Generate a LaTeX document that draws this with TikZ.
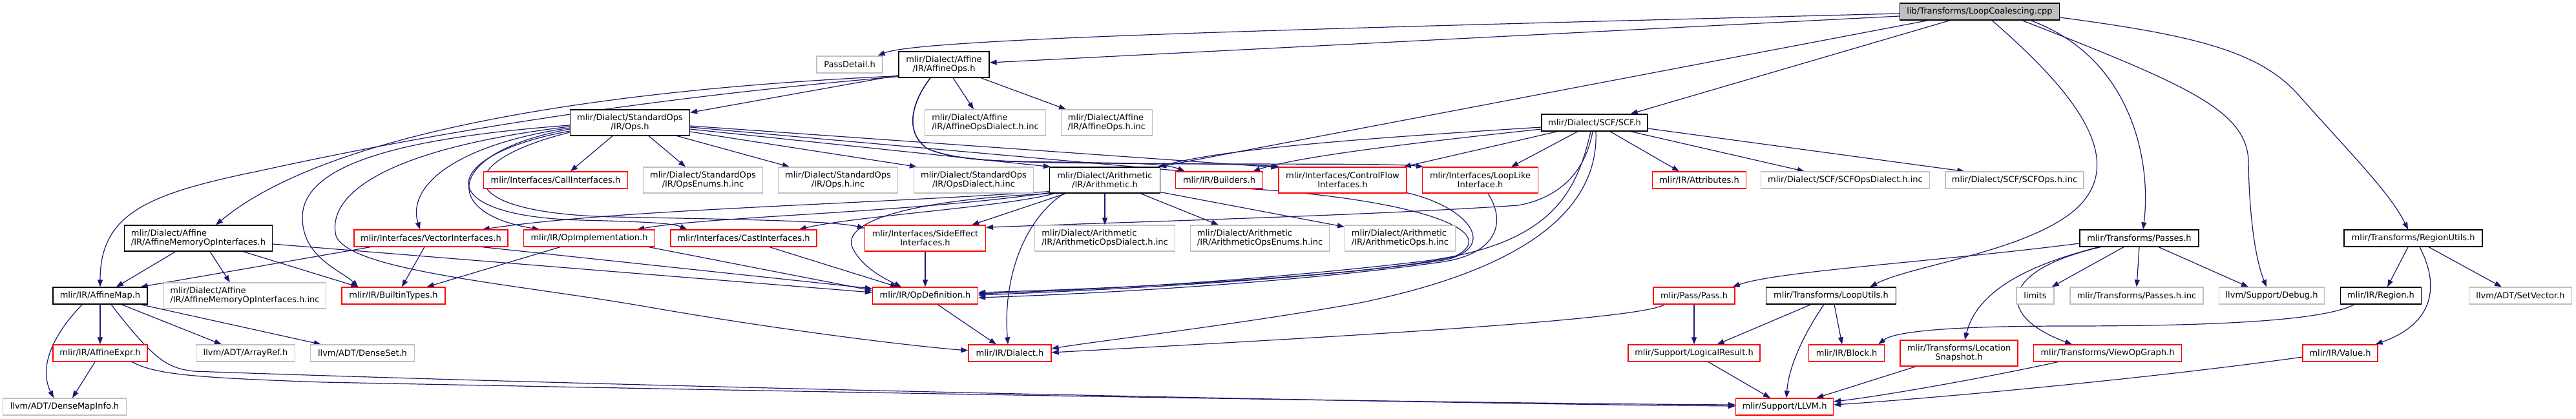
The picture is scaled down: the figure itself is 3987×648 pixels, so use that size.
\documentclass[tikz,border=0pt]{standalone}
\usepackage{fontspec}
\setmainfont{DejaVu Sans}
\usetikzlibrary{arrows.meta,calc}
\definecolor{edgec}{HTML}{191970}
\definecolor{grayb}{HTML}{BFBFBF}
\definecolor{redb}{HTML}{FF0000}
\pgfdeclarelayer{bg}
\pgfsetlayers{bg,main}
\tikzset{
  nd/.style={draw, fill=white, line width=1.3pt, font=\fontsize{13pt}{14pt}\selectfont, inner xsep=2pt, inner ysep=0pt, minimum height=26pt, align=center, text=black},
  blk/.style={nd, draw=black},
  rd/.style={nd, draw=redb},
  gr/.style={nd, draw=grayb},
  two/.style={minimum height=40pt},
  lft/.style={align=left},
  dep/.style={draw=edgec, line width=1.2pt, -{Triangle[length=11pt,width=8pt]}},
}
\begin{document}
\begin{tikzpicture}[x=1pt,y=-1pt]
\useasboundingbox (0,0) rectangle (3987,648);
% rank 0
\node[blk, fill=grayb, minimum width=247pt] (top) at (3064,18) {lib/Transforms/LoopCoalescing.cpp};
% rank 1
\node[gr, minimum width=102pt] (passdetail) at (1315,100) {PassDetail.h};
\node[blk, two, minimum width=140pt] (affineops) at (1461,100) {mlir/Dialect/Affine\\/IR/AffineOps.h};
% rank 2
\node[blk, two, minimum width=185pt] (ops) at (975,190) {mlir/Dialect/StandardOps\\/IR/Ops.h};
\node[gr, two, lft, minimum width=187pt] (affdialinc) at (1525,190) {mlir/Dialect/Affine\\/IR/AffineOpsDialect.h.inc};
\node[gr, two, lft, minimum width=141pt] (affopsinc) at (1713,190) {mlir/Dialect/Affine\\/IR/AffineOps.h.inc};
\node[blk, minimum width=164pt] (scf) at (2468,190) {mlir/Dialect/SCF/SCF.h};
% rank 3
\node[rd, minimum width=223pt] (callif) at (860,279) {mlir/Interfaces/CallInterfaces.h};
\node[gr, two, minimum width=185pt] (opsenums) at (1088,279) {mlir/Dialect/StandardOps\\/IR/OpsEnums.h.inc};
\node[gr, two, minimum width=185pt] (opsinc) at (1297,279) {mlir/Dialect/StandardOps\\/IR/Ops.h.inc};
\node[gr, two, minimum width=185pt] (opsdialinc) at (1507,279) {mlir/Dialect/StandardOps\\/IR/OpsDialect.h.inc};
\node[blk, two, minimum width=171pt] (arith) at (1710,279) {mlir/Dialect/Arithmetic\\/IR/Arithmetic.h};
\node[rd, minimum width=135pt] (builders) at (1887,279) {mlir/IR/Builders.h};
\node[rd, two, minimum width=198pt] (cflow) at (2078,279) {mlir/Interfaces/ControlFlow\\Interfaces.h};
\node[rd, two, minimum width=179pt] (looplike) at (2291,279) {mlir/Interfaces/LoopLike\\Interface.h};
\node[rd, minimum width=145pt] (attrs) at (2630,279) {mlir/IR/Attributes.h};
\node[gr, minimum width=261pt] (scfdialinc) at (2856,279) {mlir/Dialect/SCF/SCFOpsDialect.h.inc};
\node[gr, minimum width=214pt] (scfopsinc) at (3118,279) {mlir/Dialect/SCF/SCFOps.h.inc};
% rank 4
\node[blk, two, lft, minimum width=229pt] (affmemif) at (307,369) {mlir/Dialect/Affine\\/IR/AffineMemoryOpInterfaces.h};
\node[rd, minimum width=238pt] (vecif) at (667,369) {mlir/Interfaces/VectorInterfaces.h};
\node[rd, minimum width=203pt] (opimpl) at (912,369) {mlir/IR/OpImplementation.h};
\node[rd, minimum width=226pt] (castif) at (1151,369) {mlir/Interfaces/CastInterfaces.h};
\node[rd, two, minimum width=187pt] (sideeff) at (1432,369) {mlir/Interfaces/SideEffect\\Interfaces.h};
\node[gr, two, lft, minimum width=217pt] (arithdialinc) at (1710,369) {mlir/Dialect/Arithmetic\\/IR/ArithmeticOpsDialect.h.inc};
\node[gr, two, lft, minimum width=215pt] (arithenumsinc) at (1950,369) {mlir/Dialect/Arithmetic\\/IR/ArithmeticOpsEnums.h.inc};
\node[gr, two, lft, minimum width=171pt] (arithopsinc) at (2167,369) {mlir/Dialect/Arithmetic\\/IR/ArithmeticOps.h.inc};
\node[blk, minimum width=184pt] (passes) at (3311,369) {mlir/Transforms/Passes.h};
\node[blk, minimum width=214pt] (regionutils) at (3735,369) {mlir/Transforms/RegionUtils.h};
% rank 5
\node[blk, minimum width=146pt] (affmap) at (155,458) {mlir/IR/AffineMap.h};
\node[gr, two, lft, minimum width=251pt] (affmeminc) at (379,458) {mlir/Dialect/Affine\\/IR/AffineMemoryOpInterfaces.h.inc};
\node[rd, minimum width=160pt] (builtintypes) at (609,458) {mlir/IR/BuiltinTypes.h};
\node[rd, minimum width=163pt] (opdef) at (1432,458) {mlir/IR/OpDefinition.h};
\node[rd, minimum width=126pt] (pass) at (2622,458) {mlir/Pass/Pass.h};
\node[blk, minimum width=201pt] (looputils) at (2834,458) {mlir/Transforms/LoopUtils.h};
\node[gr, minimum width=58pt] (limits) at (3150,458) {limits};
\node[gr, minimum width=206pt] (passesinc) at (3307,458) {mlir/Transforms/Passes.h.inc};
\node[gr, minimum width=163pt] (debug) at (3516,458) {llvm/Support/Debug.h};
\node[blk, minimum width=125pt] (region) at (3685,458) {mlir/IR/Region.h};
\node[gr, minimum width=159pt] (setvector) at (3901,458) {llvm/ADT/SetVector.h};
% rank 6
\node[rd, minimum width=146pt] (affexpr) at (155,547) {mlir/IR/AffineExpr.h};
\node[gr, minimum width=153pt] (arrayref) at (380,547) {llvm/ADT/ArrayRef.h};
\node[gr, minimum width=161pt] (denseset) at (561,547) {llvm/ADT/DenseSet.h};
\node[rd, minimum width=128pt] (dialect) at (1563,547) {mlir/IR/Dialect.h};
\node[rd, minimum width=204pt] (logicalres) at (2622,547) {mlir/Support/LogicalResult.h};
\node[rd, minimum width=117pt] (block) at (2858,547) {mlir/IR/Block.h};
\node[rd, two, minimum width=182pt] (locsnap) at (3032,547) {mlir/Transforms/Location\\Snapshot.h};
\node[rd, minimum width=229pt] (viewop) at (3262,547) {mlir/Transforms/ViewOpGraph.h};
\node[rd, minimum width=116pt] (value) at (3622,547) {mlir/IR/Value.h};
% rank 7
\node[gr, minimum width=191pt] (densemapinfo) at (100,630) {llvm/ADT/DenseMapInfo.h};
\node[rd, minimum width=151pt] (llvm) at (2762,630) {mlir/Support/LLVM.h};

\begin{pgfonlayer}{bg}
% from top
\draw[dep] ($(top.west)+(0,3)$) .. controls (2000,45) and (1420,60) .. ($(passdetail.north east)+(-8,0)$);
\draw[dep] ($(top.west)+(0,7)$) -- ($(affineops.east)+(0,-3)$);
\draw[dep] ($(top.south)+(-80,0)$) -- ($(arith.north east)+(-2,0)$);
\draw[dep] ($(top.south)+(-46,0)$) -- ($(scf.north east)+(-27,0)$);
\draw[dep] ($(top.south)+(19,0)$) .. controls (3220,150) and (3290,250) .. (3215,322) .. controls (3140,390) and (2960,410) .. ($(looputils.north east)+(-41,0)$);
\draw[dep] ($(top.south)+(79,0)$) .. controls (3300,90) and (3330,250) .. ($(passes.north)+(6,0)$);
\draw[dep] ($(top.south)+(66,0)$) .. controls (3380,130) and (3478,170) .. (3480,250) .. controls (3481,330) and (3490,400) .. ($(debug.north)+(-8,0)$);
\draw[dep] ($(top.east)+(0,9)$) .. controls (3400,55) and (3500,80) .. (3560,150) .. controls (3640,240) and (3700,300) .. ($(regionutils.north)+(-8,0)$);
% from AffineOps.h
\draw[dep] ($(affineops.south west)+(0,-4)$) -- ($(ops.north east)+(0,5)$);
\draw[dep] ($(affineops.south west)+(0,-2)$) .. controls (900,160) and (560,230) .. (400,265) .. controls (230,300) and (155,330) .. (affmap.north);
\draw[dep] ($(affineops.south west)+(0,-3)$) .. controls (900,140) and (500,210) .. ($(affmemif.north)+(27,0)$);
\draw[dep] ($(affineops.south)+(14,0)$) -- ($(affdialinc.north)+(-18,0)$);
\draw[dep] ($(affineops.south)+(57,0)$) -- ($(affopsinc.north west)+(8,0)$);
\draw[dep] ($(affineops.south)+(-21,0)$) .. controls (1410,160) and (1400,205) .. (1435,230) .. controls (1480,250) and (1560,250) .. (1640,251) .. controls (1740,253) and (1800,252) .. ($(builders.north west)+(15,0)$);
\draw[dep] ($(affineops.south)+(-21,0)$) .. controls (1410,160) and (1400,205) .. (1435,230) .. controls (1480,250) and (1560,250) .. (1640,252) .. controls (1800,254) and (1920,253) .. ($(cflow.north west)+(2,0)$);
\draw[dep] ($(affineops.south)+(-21,0)$) .. controls (1410,160) and (1400,205) .. (1435,230) .. controls (1480,250) and (1560,250) .. (1640,252) .. controls (1900,256) and (2150,252) .. ($(looplike.north west)+(2,0)$);
% from StandardOps Ops.h
\draw[dep] ($(ops.south)+(-27,0)$) -- ($(callif.north)+(23,0)$);
\draw[dep] ($(ops.south east)+(-64,0)$) -- ($(opsenums.north)+(-27,0)$);
\draw[dep] ($(ops.south east)+(-20,0)$) -- ($(opsinc.north west)+(18,0)$);
\draw[dep] ($(ops.east)+(0,14)$) -- ($(opsdialinc.north west)+(5,0)$);
\draw[dep] ($(ops.east)+(0,10)$) -- ($(arith.north west)+(2,0)$);
\draw[dep] ($(ops.east)+(0,7)$) -- ($(builders.north west)+(15,0)$);
\draw[dep] ($(ops.east)+(0,5)$) -- ($(cflow.north west)+(0,1)$);
\draw[dep] ($(ops.west)+(0,4)$) .. controls (600,215) and (465,260) .. (468,340) .. controls (470,400) and (530,420) .. ($(builtintypes.north west)+(26,0)$);
\draw[dep] ($(ops.west)+(0,6)$) .. controls (600,230) and (505,300) .. (520,365) .. controls (540,420) and (800,440) .. (1000,475) .. controls (1200,510) and (1400,535) .. ($(dialect.west)+(0,-4)$);
\draw[dep] ($(ops.west)+(0,8)$) .. controls (700,225) and (630,290) .. ($(vecif.north)+(-17,0)$);
\draw[dep] ($(ops.west)+(0,10)$) .. controls (690,235) and (680,330) .. ($(opimpl.north west)+(25,0)$);
\draw[dep] ($(ops.west)+(0,13)$) .. controls (680,240) and (660,335) .. (900,341) .. controls (980,343) and (1040,345) .. ($(castif.north west)+(26,0)$);
\draw[dep] ($(ops.west)+(0,15)$) .. controls (700,250) and (690,330) .. (950,336) .. controls (1150,340) and (1290,342) .. ($(sideeff.north west)+(0,5)$);
% from SCF.h
\draw[dep] ($(scf.west)+(0,7)$) .. controls (2100,215) and (1900,230) .. ($(arith.north east)+(-4,0)$);
\draw[dep] ($(scf.west)+(0,10)$) .. controls (2150,225) and (2000,245) .. ($(builders.north east)+(-16,0)$);
\draw[dep] ($(scf.south west)+(25,0)$) -- ($(cflow.north east)+(-5,0)$);
\draw[dep] ($(scf.south)+(-26,0)$) -- ($(looplike.north)+(48,0)$);
\draw[dep] ($(scf.south)+(24,0)$) -- ($(attrs.north west)+(42,0)$);
\draw[dep] ($(scf.south east)+(-27,0)$) -- ($(scfdialinc.north west)+(68,0)$);
\draw[dep] ($(scf.east)+(0,9)$) -- ($(scfopsinc.north west)+(30,0)$);
\draw[dep] ($(scf.south)+(-3,0)$) .. controls (2455,260) and (2420,305) .. (2350,318) .. controls (2100,335) and (1700,345) .. ($(sideeff.north east)+(0,4)$);
\draw[dep] ($(scf.south)+(-6,0)$) .. controls (2440,300) and (2400,380) .. (2200,405) .. controls (1900,440) and (1650,450) .. ($(opdef.east)+(0,-3)$);
\draw[dep] ($(scf.south)+(2,0)$) .. controls (2475,330) and (2350,420) .. (2100,470) .. controls (1900,505) and (1700,528) .. ($(dialect.east)+(0,-7)$);
% from Arithmetic.h
\draw[dep] ($(arith.south west)+(0,-3)$) .. controls (1300,318) and (950,325) .. ($(vecif.north east)+(-40,0)$);
\draw[dep] ($(arith.south west)+(0,-1)$) .. controls (1400,330) and (1100,335) .. ($(opimpl.north east)+(-28,0)$);
\draw[dep] ($(arith.south west)+(8,0)$) .. controls (1560,320) and (1320,335) .. ($(castif.north east)+(-28,0)$);
\draw[dep] ($(arith.south west)+(26,0)$) -- ($(sideeff.north east)+(-22,0)$);
\draw[dep] ($(arith.south west)+(4,0)$) .. controls (1400,310) and (1300,345) .. (1320,385) .. controls (1335,415) and (1370,432) .. ($(opdef.north)+(-37,0)$);
\draw[dep] ($(arith.south west)+(23,0)$) .. controls (1585,340) and (1552,430) .. ($(dialect.north)+(-3,0)$);
\draw[dep] (arith.south) -- (arithdialinc.north);
\draw[dep] ($(arith.south)+(55,0)$) -- ($(arithenumsinc.north west)+(44,0)$);
\draw[dep] ($(arith.south east)+(0,-2)$) -- ($(arithopsinc.north west)+(0,3)$);
% interfaces to OpDefinition
\draw[dep] ($(builders.south east)+(-18,0)$) .. controls (2200,310) and (2330,360) .. (2250,398) .. controls (2100,430) and (1700,448) .. ($(opdef.east)+(0,-5)$);
\draw[dep] ($(cflow.south east)+(0,-1)$) .. controls (2270,320) and (2320,380) .. (2240,402) .. controls (2050,432) and (1700,450) .. ($(opdef.east)+(0,-1)$);
\draw[dep] ($(looplike.south)+(12,0)$) .. controls (2335,350) and (2310,395) .. (2230,406) .. controls (2000,438) and (1700,455) .. ($(opdef.east)+(0,3)$);
% AffineMemoryOpInterfaces
\draw[dep] ($(affmemif.south west)+(80,0)$) -- ($(affmap.north)+(25,0)$);
\draw[dep] ($(affmemif.south)+(18,0)$) -- ($(affmeminc.north west)+(103,0)$);
\draw[dep] ($(affmemif.south east)+(-46,0)$) -- ($(builtintypes.north west)+(26,0)$);
\draw[dep] ($(affmemif.east)+(0,9)$) -- ($(opdef.west)+(0,-5)$);
% VectorInterfaces
\draw[dep] ($(vecif.south west)+(26,0)$) -- ($(affmap.north east)+(-11,0)$);
\draw[dep] ($(vecif.south)+(-10,0)$) -- ($(builtintypes.north)+(13,0)$);
\draw[dep] ($(vecif.south east)+(-40,0)$) -- ($(opdef.west)+(0,-11)$);
% OpImplementation
\draw[dep] ($(opimpl.south west)+(57,0)$) -- ($(builtintypes.north east)+(-29,0)$);
\draw[dep] ($(opimpl.south east)+(-10,0)$) -- ($(opdef.west)+(0,-8)$);
% others to OpDefinition
\draw[dep] ($(castif.south)+(40,0)$) -- ($(opdef.north)+(-43,0)$);
\draw[dep] (sideeff.south) -- (opdef.north);
\draw[dep] ($(opdef.south)+(19,0)$) -- ($(dialect.north)+(-21,0)$);
% AffineMap / AffineExpr
\draw[dep] (affmap.south) -- (affexpr.north);
\draw[dep] ($(affmap.south)+(33,0)$) -- ($(arrayref.north west)+(40,0)$);
\draw[dep] ($(affmap.south east)+(-11,0)$) -- ($(denseset.north west)+(17,0)$);
\draw[dep] ($(affmap.south west)+(46,0)$) .. controls (80,520) and (60,570) .. ($(densemapinfo.north)+(-17,0)$);
\draw[dep] ($(affmap.south)+(17,0)$) .. controls (240,560) and (260,570) .. (300,575) .. controls (1000,600) and (2200,625) .. ($(llvm.west)+(0,-1)$);
\draw[dep] ($(affexpr.south)+(-8,0)$) -- ($(densemapinfo.north)+(12,0)$);
\draw[dep] ($(affexpr.south east)+(-24,0)$) .. controls (240,580) and (300,585) .. (500,592) .. controls (1400,610) and (2300,625) .. ($(llvm.west)+(0,-3)$);
% Passes.h
\draw[dep] ($(passes.west)+(0,8)$) .. controls (3000,405) and (2750,420) .. ($(pass.north east)+(-4,0)$);
\draw[dep] ($(passes.south)+(-24,0)$) -- ($(limits.north east)+(-4,0)$);
\draw[dep] (passes.south) -- (passesinc.north);
\draw[dep] ($(passes.south)+(30,0)$) -- ($(debug.north west)+(46,0)$);
\draw[dep] ($(passes.south west)+(30,0)$) .. controls (3140,410) and (3060,450) .. ($(locsnap.north)+(9,0)$);
\draw[dep] ($(passes.south west)+(33,0)$) .. controls (3090,420) and (3090,490) .. ($(viewop.north)+(-55,0)$);
% RegionUtils.h
\draw[dep] ($(regionutils.south)+(-8,0)$) -- ($(region.north)+(10,0)$);
\draw[dep] ($(regionutils.south)+(10,0)$) .. controls (3775,440) and (3770,500) .. ($(value.north east)+(-4,0)$);
\draw[dep] ($(regionutils.south)+(24,0)$) -- ($(setvector.north west)+(51,0)$);
% Pass.h, LoopUtils.h, Region.h
\draw[dep] (pass.south) -- (logicalres.north);
\draw[dep] ($(pass.south west)+(18,0)$) .. controls (2540,495) and (2100,520) .. ($(dialect.east)+(0,-1)$);
\draw[dep] ($(looputils.south west)+(70,0)$) -- ($(logicalres.north east)+(-67,0)$);
\draw[dep] ($(looputils.south)+(-11,0)$) .. controls (2790,520) and (2768,570) .. ($(llvm.north)+(3,0)$);
\draw[dep] ($(looputils.south)+(5,0)$) -- ($(block.north)+(-7,0)$);
\draw[dep] ($(region.south west)+(22,0)$) .. controls (3600,495) and (3450,505) .. (3200,505) .. controls (3000,505) and (2930,515) .. ($(block.north east)+(-10,0)$);
% to LLVM.h
\draw[dep] ($(logicalres.south)+(22,0)$) -- ($(llvm.north)+(-22,0)$);
\draw[dep] ($(locsnap.south west)+(25,0)$) -- ($(llvm.north east)+(-27,0)$);
\draw[dep] ($(viewop.south west)+(38,0)$) .. controls (3050,590) and (2900,615) .. ($(llvm.east)+(0,-8)$);
\draw[dep] ($(value.west)+(0,6)$) .. controls (3300,590) and (2950,620) .. ($(llvm.east)+(0,-3)$);
\end{pgfonlayer}
\end{tikzpicture}
\end{document}
